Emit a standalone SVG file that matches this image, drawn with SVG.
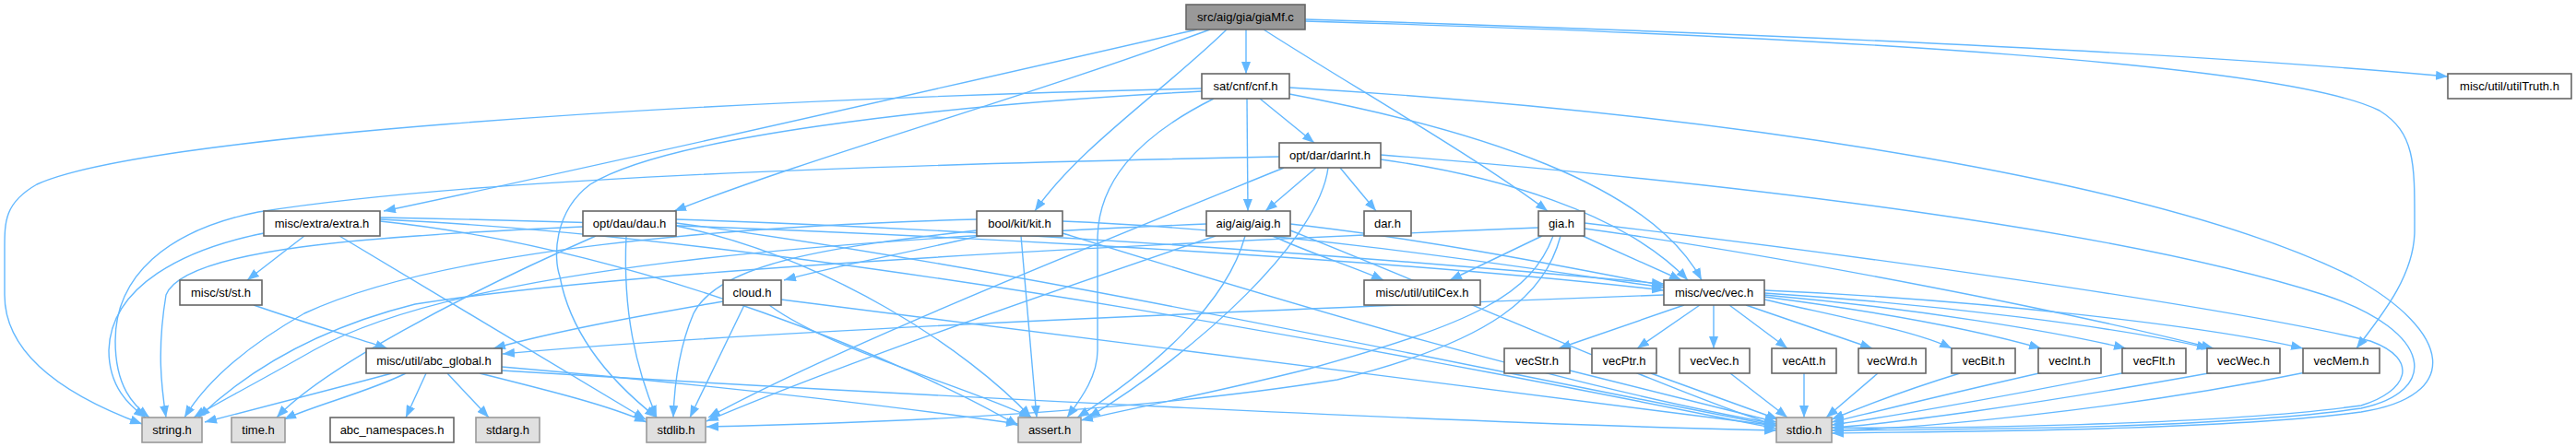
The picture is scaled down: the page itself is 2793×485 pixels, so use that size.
<svg xmlns="http://www.w3.org/2000/svg" width="2793" height="485" viewBox="0 0 2793 485">
<defs>
<marker id="ah" markerUnits="userSpaceOnUse" markerWidth="13" markerHeight="10" refX="13" refY="5" orient="auto"><path d="M0,0 L13,5 L0,10 Z" fill="#63b8ff"/></marker>
<style>
.e path{fill:none;stroke:#63b8ff;stroke-width:1.4;marker-end:url(#ah)}
.n rect{fill:#fff;stroke:#666;stroke-width:1.6}
.s rect{fill:#e0e0e0;stroke:#999;stroke-width:1.6}
.r rect{fill:#999;stroke:#666;stroke-width:1.6}
text{font-family:"Liberation Sans",Arial,Helvetica,sans-serif;font-size:13px;fill:#000;text-anchor:middle}
</style>
</defs>
<rect width="2793" height="485" fill="#fff"/>
<g class="e" id="edges">
<path d="M1351,32 L1351,80"/>
<path d="M1370,32 C1460,90 1600,170 1678,229"/>
<path d="M1330,32 C1260,100 1170,160 1122,229"/>
<path d="M1312,32 C1100,110 880,170 731,229"/>
<path d="M1298,32 C1000,100 650,180 416,229"/>
<path d="M1415,21 C1900,36 2350,55 2654,83"/>
<path d="M1415,23 C2000,40 2480,70 2580,120 C2620,145 2618,180 2618,250 C2618,300 2580,345 2555,378"/>
<path d="M1366,107 L1425,155"/>
<path d="M1352,107 L1353,229"/>
<path d="M1398,102 C1600,140 1790,200 1845,304"/>
<path d="M1398,95 C1900,125 2350,200 2550,300 C2660,360 2670,430 2560,447 C2400,468 2100,468 1986,470"/>
<path d="M1303,96 C700,110 150,150 40,200 C5,220 5,240 5,270 L5,320 C5,380 60,425 154,460"/>
<path d="M1303,99 C1000,115 720,150 640,200 C600,230 600,280 607,300 C620,370 670,420 712,453"/>
<path d="M1316,107 C1230,150 1190,200 1190,260 L1190,380 C1190,410 1170,435 1157,453"/>
<path d="M1427,182 L1372,229"/>
<path d="M1453,182 L1492,229"/>
<path d="M1497,173 C1620,190 1760,230 1830,304"/>
<path d="M1497,168 C1900,200 2300,250 2520,320 C2640,360 2645,425 2560,443 C2400,466 2100,466 1986,467"/>
<path d="M1387,170 C900,180 500,195 280,230 C180,250 125,300 125,370 C125,420 145,440 162,453"/>
<path d="M1392,182 C1200,260 900,380 768,453"/>
<path d="M1440,182 C1430,260 1300,380 1180,453"/>
<path d="M1318,256 C1100,330 900,400 766,457"/>
<path d="M1308,243 C900,260 500,290 340,380 C270,420 230,440 210,453"/>
<path d="M1350,256 C1330,330 1250,400 1168,453"/>
<path d="M1399,243 C1550,260 1700,290 1804,310"/>
<path d="M1380,256 C1420,275 1470,290 1500,304"/>
<path d="M1399,250 C1600,330 1800,420 1926,462"/>
<path d="M1716,256 L1823,304"/>
<path d="M1672,256 L1572,304"/>
<path d="M1718,248 C1950,280 2250,340 2400,378"/>
<path d="M1718,242 C2000,275 2400,330 2570,370 C2625,390 2610,425 2560,440 C2400,462 2100,465 1986,464"/>
<path d="M1692,256 C1675,320 1620,370 1450,412 C1200,452 900,460 766,463"/>
<path d="M1668,247 C1300,262 700,290 450,330 C330,360 260,410 215,453"/>
<path d="M1684,256 C1660,320 1600,350 1420,400 C1300,430 1230,442 1172,456"/>
<path d="M1062,256 C980,275 900,290 850,304"/>
<path d="M1059,238 C800,245 480,270 330,340 C260,380 220,420 200,453"/>
<path d="M1059,250 C900,268 780,285 752,340 C735,380 731,420 730,453"/>
<path d="M1107,256 L1124,453"/>
<path d="M1152,253 C1400,330 1700,420 1926,460"/>
<path d="M1152,240 C1400,250 1650,290 1804,312"/>
<path d="M632,246 C400,256 200,270 180,320 C170,380 175,420 180,453"/>
<path d="M646,256 C500,320 350,400 300,453"/>
<path d="M679,256 C675,340 690,400 712,453"/>
<path d="M733,245 C900,280 1050,380 1118,453"/>
<path d="M733,242 C1100,290 1600,400 1926,462"/>
<path d="M733,238 C1100,250 1500,280 1804,308"/>
<path d="M330,256 L268,304"/>
<path d="M286,253 C200,270 120,310 118,380 C118,420 140,440 158,453"/>
<path d="M368,256 L700,455"/>
<path d="M412,240 C700,270 1000,400 1104,462"/>
<path d="M412,238 C900,260 1600,400 1926,465"/>
<path d="M412,236 C900,245 1500,280 1804,315"/>
<path d="M784,327 C680,345 600,360 535,378"/>
<path d="M807,331 L748,453"/>
<path d="M834,331 C900,380 1050,420 1118,453"/>
<path d="M847,325 C1200,370 1600,420 1926,462"/>
<path d="M275,331 C330,350 380,365 420,378"/>
<path d="M1804,320 C1400,335 800,360 545,384"/>
<path d="M1826,331 L1690,378"/>
<path d="M1843,331 L1775,378"/>
<path d="M1858,331 L1858,378"/>
<path d="M1875,331 L1938,378"/>
<path d="M1893,331 L2030,378"/>
<path d="M1913,325 C2000,345 2080,360 2116,378"/>
<path d="M1913,322 C2050,340 2150,360 2213,378"/>
<path d="M1913,320 C2080,335 2230,360 2305,378"/>
<path d="M1913,318 C2100,330 2300,355 2395,378"/>
<path d="M1913,315 C2150,325 2400,355 2497,378"/>
<path d="M1702,402 L1926,458"/>
<path d="M1790,405 L1928,455"/>
<path d="M1876,405 L1938,453"/>
<path d="M1956,405 L1956,453"/>
<path d="M2036,405 L1980,453"/>
<path d="M2125,405 C2060,425 2010,445 1986,455"/>
<path d="M2215,404 C2100,430 2020,450 1986,458"/>
<path d="M2305,404 C2150,435 2030,455 1986,461"/>
<path d="M2400,404 C2200,440 2050,460 1986,464"/>
<path d="M2500,404 C2300,445 2080,465 1986,467"/>
<path d="M425,405 C350,425 270,445 222,458"/>
<path d="M440,405 C400,425 340,440 308,455"/>
<path d="M462,405 L440,453"/>
<path d="M485,405 L530,453"/>
<path d="M520,405 C600,425 660,440 701,458"/>
<path d="M544,398 C800,420 1000,445 1104,460"/>
<path d="M544,402 C1000,430 1600,460 1926,467"/>
</g>
<g id="giaMf" class="r"><rect x="1286" y="5" width="129" height="27"/><text x="1350.5" y="23">src/aig/gia/giaMf.c</text></g>
<g id="cnf" class="n"><rect x="1303" y="80" width="95" height="27"/><text x="1350.5" y="98">sat/cnf/cnf.h</text></g>
<g id="utilTruth" class="n"><rect x="2654" y="80" width="134" height="27"/><text x="2721" y="98">misc/util/utilTruth.h</text></g>
<g id="darInt" class="n"><rect x="1387" y="155" width="110" height="27"/><text x="1442" y="173">opt/dar/darInt.h</text></g>
<g id="extra" class="n"><rect x="286" y="229" width="126" height="27"/><text x="349" y="247">misc/extra/extra.h</text></g>
<g id="dau" class="n"><rect x="632" y="229" width="101" height="27"/><text x="682.5" y="247">opt/dau/dau.h</text></g>
<g id="kit" class="n"><rect x="1059" y="229" width="93" height="27"/><text x="1105.5" y="247">bool/kit/kit.h</text></g>
<g id="aig" class="n"><rect x="1308" y="229" width="91" height="27"/><text x="1353.5" y="247">aig/aig/aig.h</text></g>
<g id="dar" class="n"><rect x="1479" y="229" width="51" height="27"/><text x="1504.5" y="247">dar.h</text></g>
<g id="gia" class="n"><rect x="1668" y="229" width="50" height="27"/><text x="1693" y="247">gia.h</text></g>
<g id="st" class="n"><rect x="195" y="304" width="89" height="27"/><text x="239.5" y="322">misc/st/st.h</text></g>
<g id="cloud" class="n"><rect x="784" y="304" width="63" height="27"/><text x="815.5" y="322">cloud.h</text></g>
<g id="utilCex" class="n"><rect x="1479" y="304" width="126" height="27"/><text x="1542" y="322">misc/util/utilCex.h</text></g>
<g id="vec" class="n"><rect x="1804" y="304" width="109" height="27"/><text x="1858.5" y="322">misc/vec/vec.h</text></g>
<g id="abc_global" class="n"><rect x="397" y="378" width="147" height="27"/><text x="470.5" y="396">misc/util/abc_global.h</text></g>
<g id="vecStr" class="n"><rect x="1631" y="378" width="71" height="27"/><text x="1666.5" y="396">vecStr.h</text></g>
<g id="vecPtr" class="n"><rect x="1726" y="378" width="70" height="27"/><text x="1761" y="396">vecPtr.h</text></g>
<g id="vecVec" class="n"><rect x="1821" y="378" width="76" height="27"/><text x="1859" y="396">vecVec.h</text></g>
<g id="vecAtt" class="n"><rect x="1921" y="378" width="70" height="27"/><text x="1956" y="396">vecAtt.h</text></g>
<g id="vecWrd" class="n"><rect x="2015" y="378" width="73" height="27"/><text x="2051.5" y="396">vecWrd.h</text></g>
<g id="vecBit" class="n"><rect x="2116" y="378" width="69" height="27"/><text x="2150.5" y="396">vecBit.h</text></g>
<g id="vecInt" class="n"><rect x="2210" y="378" width="68" height="27"/><text x="2244" y="396">vecInt.h</text></g>
<g id="vecFlt" class="n"><rect x="2301" y="378" width="69" height="27"/><text x="2335.5" y="396">vecFlt.h</text></g>
<g id="vecWec" class="n"><rect x="2393" y="378" width="79" height="27"/><text x="2432.5" y="396">vecWec.h</text></g>
<g id="vecMem" class="n"><rect x="2497" y="378" width="83" height="27"/><text x="2538.5" y="396">vecMem.h</text></g>
<g id="string" class="s"><rect x="154" y="453" width="65" height="27"/><text x="186.5" y="471">string.h</text></g>
<g id="time" class="s"><rect x="251" y="453" width="58" height="27"/><text x="280" y="471">time.h</text></g>
<g id="abc_ns" class="n"><rect x="358" y="453" width="134" height="27"/><text x="425" y="471">abc_namespaces.h</text></g>
<g id="stdarg" class="s"><rect x="516" y="453" width="69" height="27"/><text x="550.5" y="471">stdarg.h</text></g>
<g id="stdlib" class="s"><rect x="701" y="453" width="64" height="27"/><text x="733" y="471">stdlib.h</text></g>
<g id="assert" class="s"><rect x="1104" y="453" width="68" height="27"/><text x="1138" y="471">assert.h</text></g>
<g id="stdio" class="s"><rect x="1926" y="453" width="60" height="27"/><text x="1956" y="471">stdio.h</text></g>
</svg>
